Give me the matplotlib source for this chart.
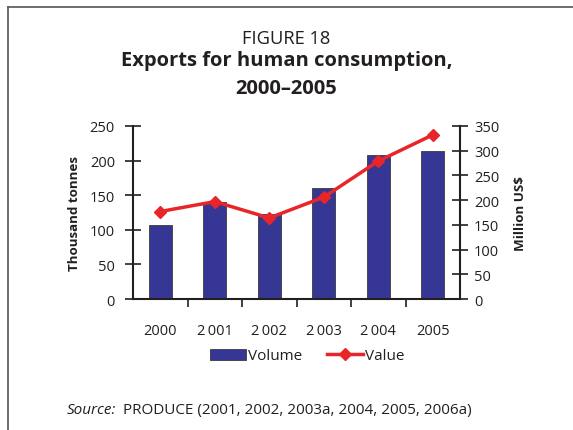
import matplotlib.pyplot as plt
from matplotlib.lines import Line2D
from matplotlib.patches import Patch

plt.rcParams['font.family'] = ['Open Sans', 'DejaVu Sans']

years = ["2000", "2\u2009001", "2\u2009002", "2\u2009003", "2\u2009004", "2005"]
volume = [107, 140, 123, 160, 208, 214]   # thousand tonnes
value = [177, 197, 164, 206, 279, 332]    # million US$

bar_color = "#363795"
line_color = "#e8262a"
ink = "#231f20"

fig = plt.figure(figsize=(5.73, 4.31), dpi=100)

# frame around the figure (only top and left visible in the crop)
fig.add_artist(Line2D([8 / 573, 1.0], [1 - 8 / 431, 1 - 8 / 431], color="#555555", lw=1.2))
fig.add_artist(Line2D([8 / 573, 8 / 573], [0, 1 - 8 / 431], color="#555555", lw=1.2))

fig.text(0.5, 1 - 39 / 431, "FIGURE 18", ha="center", va="center", fontsize=13.2, color=ink)
fig.text(0.5, 1 - 61 / 431, "Exports for human consumption,", ha="center", va="center",
         fontsize=14.5, fontweight="bold", color=ink)
fig.text(0.5, 1 - 89 / 431, "2000\u20132005", ha="center", va="center",
         fontsize=14.5, fontweight="bold", color=ink)

ax = fig.add_axes([133 / 573, 1 - 300 / 431, (460 - 133) / 573, (300 - 127) / 431])
x = list(range(len(years)))
ax.bar(x, volume, width=0.42, color=bar_color, edgecolor="#3a3a3a", linewidth=0.6, zorder=2)
ax.set_xlim(-0.5, len(years) - 0.5)
ax.set_ylim(0, 250)
ax.set_yticks(range(0, 251, 50))
ax.set_xticks([i + 0.5 for i in range(len(years) - 1)])
ax.set_xticklabels([])
ax.set_xticks(x, minor=True)
ax.set_xticklabels(years, minor=True)
ax.tick_params(axis="x", which="minor", length=0, pad=17, labelsize=10.5, labelcolor=ink)
ax.tick_params(axis="x", which="major", direction="out", length=6, width=1.2, color=ink)
ax.tick_params(axis="y", direction="inout", length=12, width=1.2, color=ink,
               labelsize=10.5, labelcolor=ink, pad=7)
for s in ["top", "right"]:
    ax.spines[s].set_visible(False)
for s in ["left", "bottom"]:
    ax.spines[s].set_linewidth(1.5)
    ax.spines[s].set_color(ink)
ax.set_ylabel("Thousand tonnes", fontsize=9.6, fontweight="bold", color=ink, labelpad=6)

ax2 = ax.twinx()
ax2.plot(x, value, color=line_color, lw=2.5, marker="D", markersize=6.5, zorder=3)
ax2.set_ylim(0, 350)
ax2.set_yticks(range(0, 351, 50))
ax2.tick_params(axis="y", direction="inout", length=12, width=1.2, color=ink,
                labelsize=10.5, labelcolor=ink, pad=4)
for s in ["top", "left", "bottom"]:
    ax2.spines[s].set_visible(False)
ax2.spines["right"].set_linewidth(1.5)
ax2.spines["right"].set_color(ink)
ax2.set_ylabel("Million US$", fontsize=9.6, fontweight="bold", color=ink, labelpad=11)

handles = [Patch(facecolor=bar_color, edgecolor="#3a3a3a", linewidth=0.6),
           Line2D([], [], color=line_color, lw=2.5, marker="D", markersize=6.5)]
fig.legend(handles, ["Volume", "Value"], loc="center", bbox_to_anchor=(307 / 573, 1 - 357 / 431),
           ncol=2, frameon=False, fontsize=11, handlelength=2.4, handletextpad=0.1,
           columnspacing=1.6, labelcolor=ink)

fig.text(67 / 573, 1 - 411 / 431, "Source:", style="italic", fontsize=11, color=ink, va="center")
fig.text(123 / 573, 1 - 411 / 431, "PRODUCE (2001, 2002, 2003a, 2004, 2005, 2006a)",
         fontsize=11, color=ink, va="center")

fig.savefig("out.png", dpi=100)
